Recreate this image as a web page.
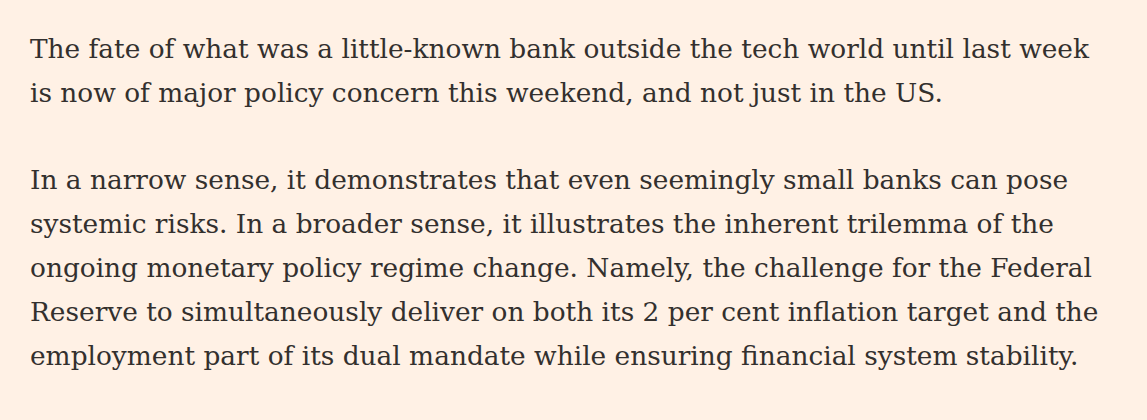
<!DOCTYPE html>
<html><head><meta charset="utf-8">
<script src="https://cdn.jsdelivr.net/npm/chart.js@4"></script>
<style>
html,body{margin:0;padding:0;background:#FFF1E5;width:1147px;height:420px;overflow:hidden}
.wrap{position:absolute;left:30px;top:27px;font-family:"DejaVu Serif",Georgia,serif;font-size:26.4px;line-height:44px;color:#33302E;white-space:nowrap}
p{margin:0 0 43px 0}
</style></head><body>
<div class="wrap" id="w"></div>
<script>
const paragraphs = [
 ["The fate of what was a little-known bank outside the tech world until last week",
  "is now of major policy concern this weekend, and not just in the US."],
 ["In a narrow sense, it demonstrates that even seemingly small banks can pose",
  "systemic risks. In a broader sense, it illustrates the inherent trilemma of the",
  "ongoing monetary policy regime change. Namely, the challenge for the Federal",
  "Reserve to simultaneously deliver on both its 2 per cent inflation target and the",
  "employment part of its dual mandate while ensuring financial system stability."]
];
const w=document.getElementById('w');
paragraphs.forEach(lines=>{const p=document.createElement('p');lines.forEach((l,i)=>{if(i)p.appendChild(document.createElement('br'));p.appendChild(document.createTextNode(l));});w.appendChild(p);});
</script>
</body></html>
